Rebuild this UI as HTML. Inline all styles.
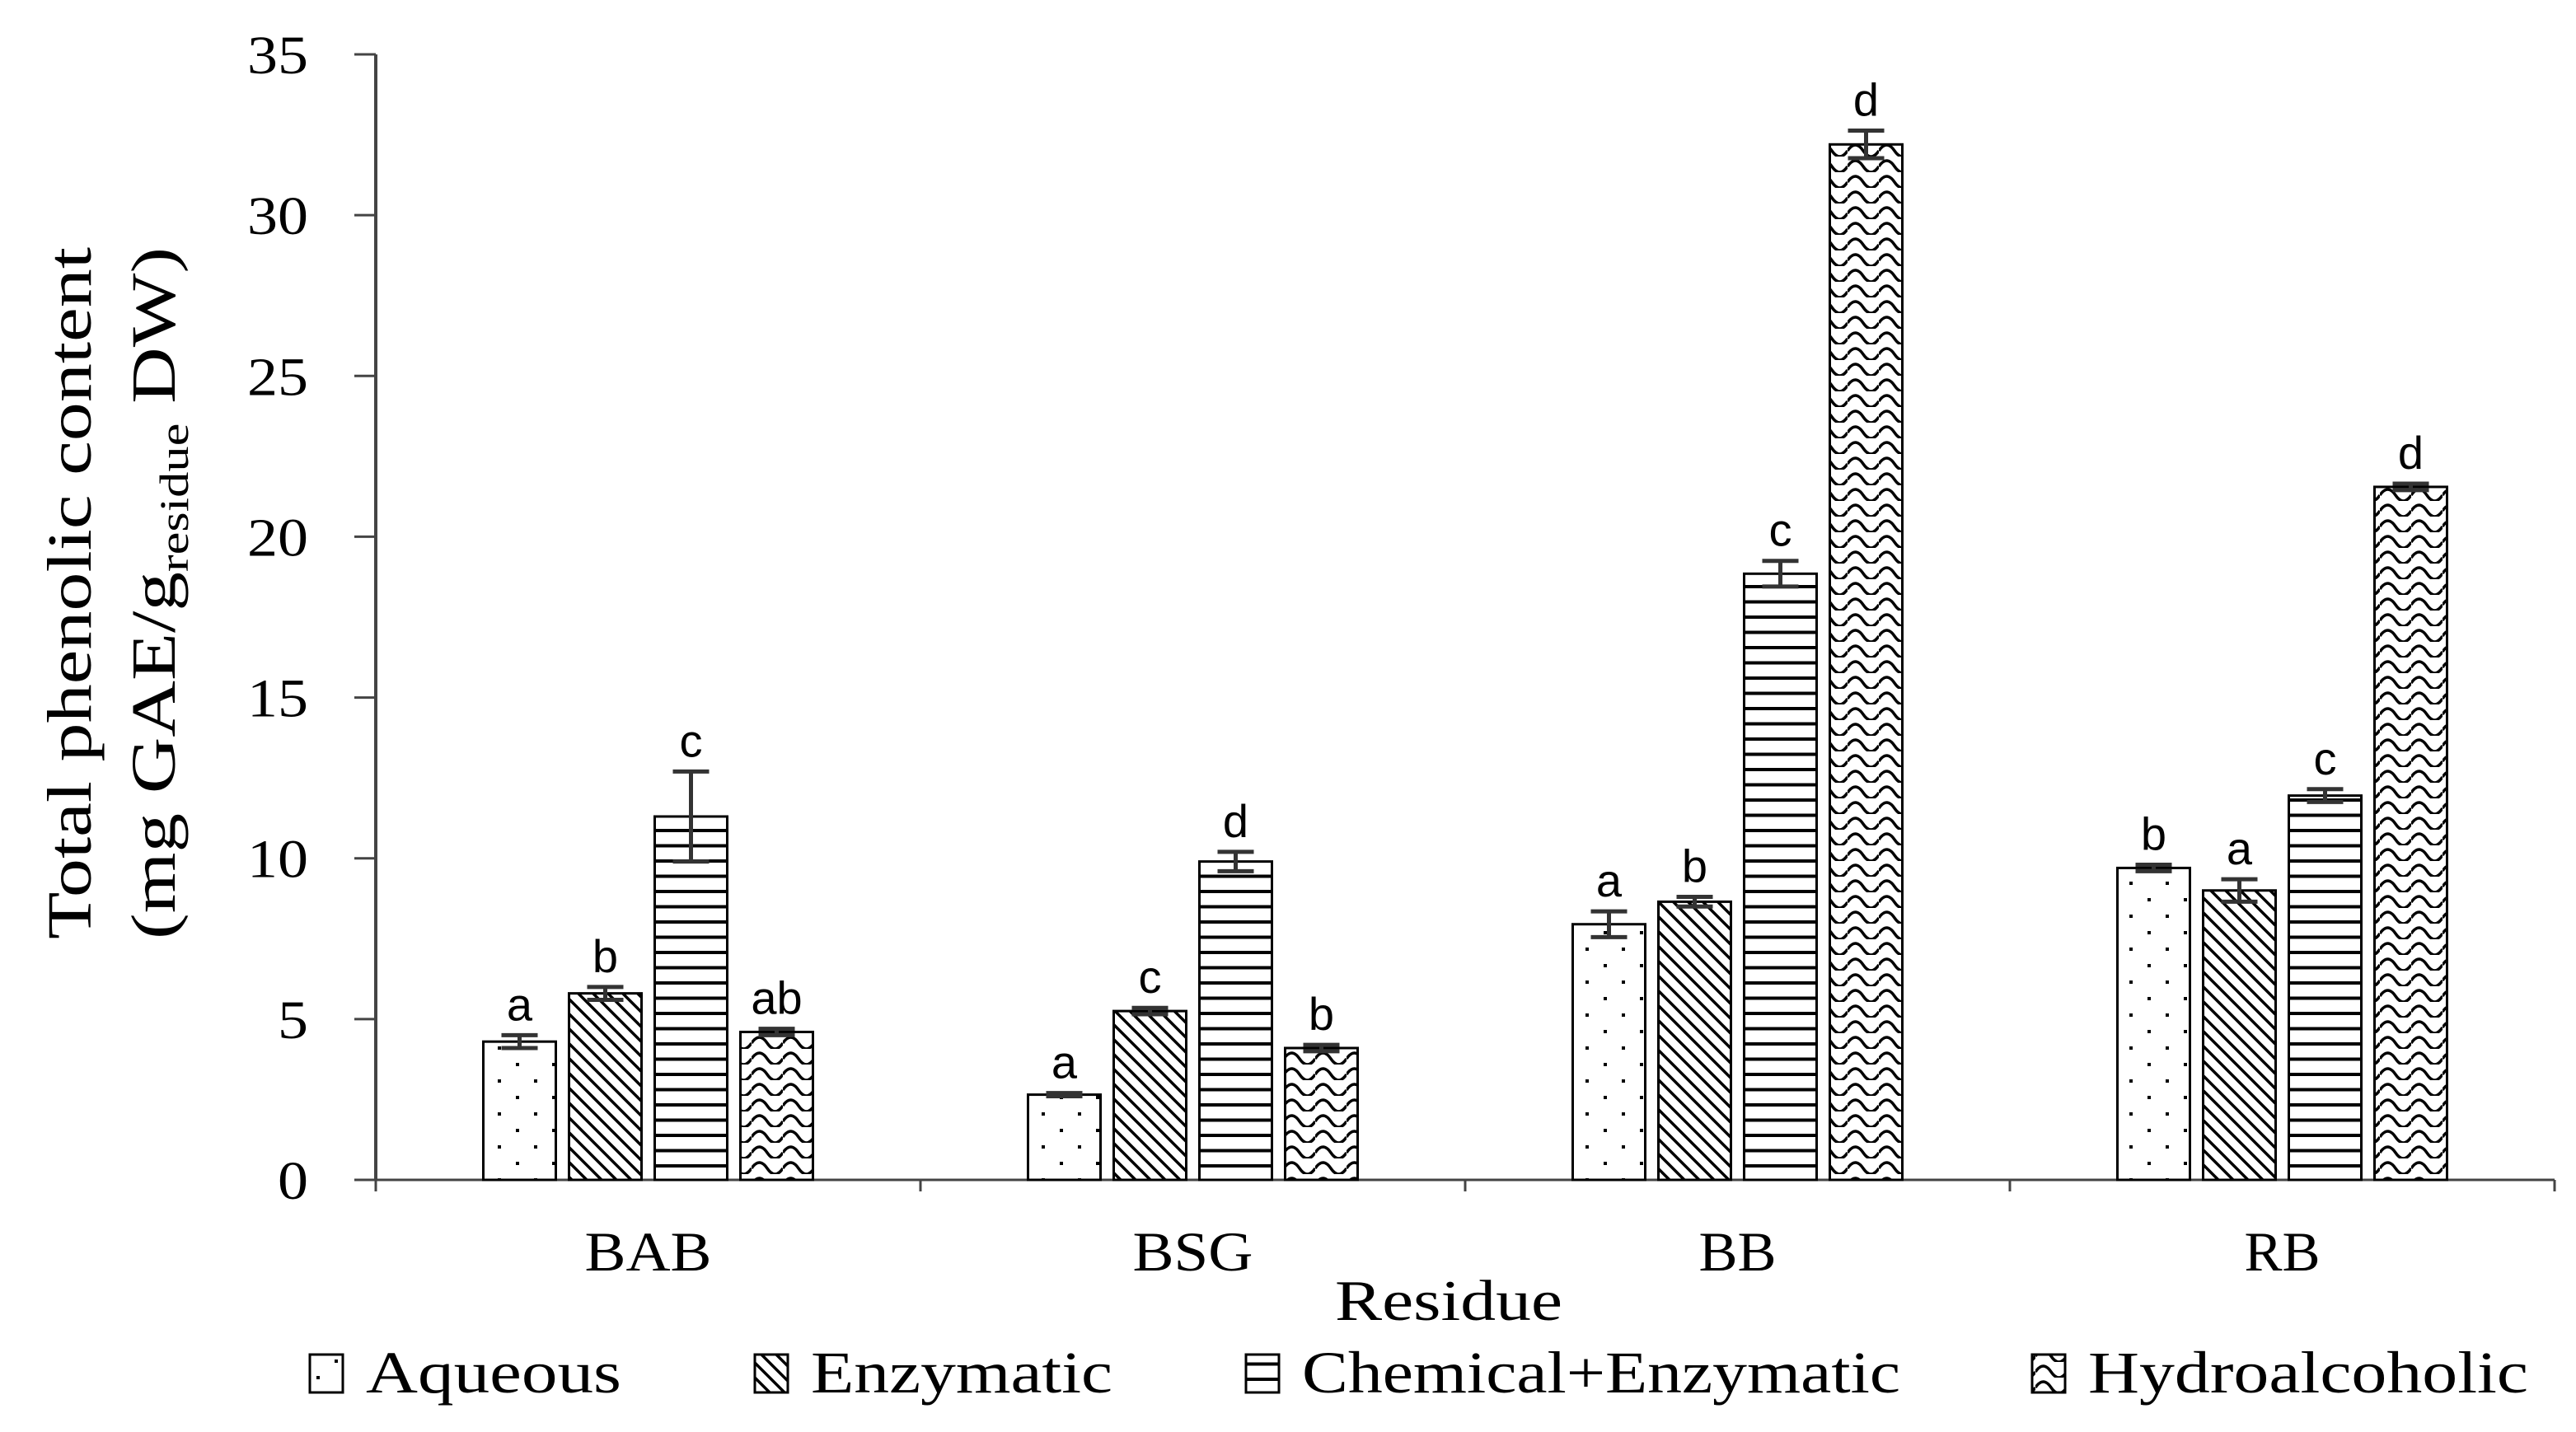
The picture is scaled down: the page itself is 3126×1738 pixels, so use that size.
<!DOCTYPE html>
<html><head><meta charset="utf-8">
<style>
html,body{margin:0;padding:0;background:#fff;}
svg{display:block;}
.serif{font-family:"Liberation Serif",serif;}
.sans{font-family:"Liberation Sans",sans-serif;}
</style></head>
<body>
<svg id="chart" width="3126" height="1738" viewBox="0 0 3126 1738" xmlns="http://www.w3.org/2000/svg">
<defs>
<pattern id="p-dots" width="44" height="40" patternUnits="userSpaceOnUse">
<rect width="44" height="40" fill="#fff"/><rect x="10" y="10" width="4" height="4" fill="#000"/><rect x="32" y="30" width="4" height="4" fill="#000"/>
</pattern>
<pattern id="p-diag" width="18" height="18" patternUnits="userSpaceOnUse">
<rect width="18" height="18" fill="#fff"/><path d="M-4.5,-4.5 L22.5,22.5 M-4.5,13.5 L4.5,22.5 M13.5,-4.5 L22.5,4.5" stroke="#000" stroke-width="3.5"/>
</pattern>
<pattern id="p-horiz" width="20" height="18.5" patternUnits="userSpaceOnUse">
<rect width="20" height="18.5" fill="#fff"/><rect y="7" width="20" height="4" fill="#000"/>
</pattern>
<pattern id="p-wave" width="38" height="19" patternUnits="userSpaceOnUse">
<rect width="38" height="19" fill="#fff"/><path d="M0,12 Q9.5,-2 19,12 T38,12" fill="none" stroke="#000" stroke-width="3.5"/>
</pattern>
</defs>
<g id="plot"></g>
<text class="serif" font-size="76" text-anchor="middle" transform="translate(110,720) rotate(-90)" textLength="840" lengthAdjust="spacingAndGlyphs">Total phenolic content</text>
<text class="serif" font-size="76" text-anchor="middle" transform="translate(212,720) rotate(-90)" textLength="840" lengthAdjust="spacingAndGlyphs">(mg GAE/g<tspan font-size="50" dy="16">residue</tspan><tspan dy="-16"> DW)</tspan></text>
</svg>
<script>
const categories = ["BAB","BSG","BB","RB"];
const seriesNames = ["Aqueous","Enzymatic","Chemical+Enzymatic","Hydroalcoholic"];
const aqueous = [4.3, 2.65, 7.95, 9.7];
const enzymatic = [5.8, 5.25, 8.65, 9.0];
const chemEnz = [11.3, 9.9, 18.85, 11.95];
const hydro = [4.6, 4.1, 32.2, 21.55];
const aqueousErr = [0.2, 0.05, 0.4, 0.1];
const enzymaticErr = [0.2, 0.1, 0.15, 0.35];
const chemEnzErr = [1.4, 0.3, 0.4, 0.2];
const hydroErr = [0.1, 0.1, 0.43, 0.1];
const aqueousLetters = ["a","a","a","b"];
const enzymaticLetters = ["b","c","b","a"];
const chemEnzLetters = ["c","d","c","c"];
const hydroLetters = ["ab","b","d","d"];
const yTicks = [0,5,10,15,20,25,30,35];

const NS = "http://www.w3.org/2000/svg";
const g = document.getElementById("plot");
const X0 = 456, X1 = 3100, Y0 = 1432, YTOP = 66, YMAX = 35;
const groupW = (X1 - X0) / categories.length;
const barW = 88, barStep = 104;
const y = v => Y0 - v / YMAX * (Y0 - YTOP);
const xCenter = i => X0 + groupW * (i + 0.5);
const xBar = (i, s) => xCenter(i) - 2 * barStep + (barStep - barW) / 2 + s * barStep;
function el(tag, attrs, parent) {
  const e = document.createElementNS(NS, tag);
  for (const k in attrs) e.setAttribute(k, attrs[k]);
  (parent || g).appendChild(e);
  return e;
}
const series = [aqueous, enzymatic, chemEnz, hydro];
const errs = [aqueousErr, enzymaticErr, chemEnzErr, hydroErr];
const letters = [aqueousLetters, enzymaticLetters, chemEnzLetters, hydroLetters];
const fills = ["url(#p-dots)","url(#p-diag)","url(#p-horiz)","url(#p-wave)"];

let a = el("line",{x1:X0,y1:YTOP,x2:X0,y2:Y0,stroke:"#444","stroke-width":4});


a = el("line",{x1:X0,y1:Y0,x2:X1,y2:Y0,stroke:"#444","stroke-width":3});


yTicks.forEach(t => {
  const tk = el("line",{x1:X0-26,y1:y(t),x2:X0,y2:y(t),stroke:"#444","stroke-width":3});
  
  
  const s = String(t);
  const tl = el("text",{x:374,y:y(t)+23,"text-anchor":"end","font-size":66,class:"serif",textLength:37*s.length,lengthAdjust:"spacingAndGlyphs"});
  tl.textContent = s;
  
  
});
for (let i = 0; i <= categories.length; i++) {
  const tk = el("line",{x1:X0+groupW*i,y1:Y0,x2:X0+groupW*i,y2:Y0+14,stroke:"#444","stroke-width":3});
  
  
}
const catWidth = {BAB:154,BSG:146,BB:94,RB:92};
categories.forEach((c, i) => {
  const t = el("text",{x:xCenter(i),y:1542,"text-anchor":"middle","font-size":68,class:"serif",textLength:catWidth[c]||(c.length*48),lengthAdjust:"spacingAndGlyphs"});
  t.textContent = c;
  
  
  series.forEach((s, k) => {
    const v = s[i], e = errs[k][i], bx = xBar(i, k);
    const r = el("rect",{x:bx,y:y(v),width:barW,height:Y0-y(v),fill:fills[k],stroke:"#000","stroke-width":3});
    
    
    const cx = bx + barW/2;
    const eb = el("path",{d:`M${cx},${y(v+e)} L${cx},${y(v-e)} M${cx-22},${y(v+e)} L${cx+22},${y(v+e)} M${cx-22},${y(v-e)} L${cx+22},${y(v-e)}`,stroke:"#333","stroke-width":5,fill:"none"});
    
    
    const lt = el("text",{x:cx,y:y(v+e)-18,"text-anchor":"middle","font-size":56,class:"sans"});
    lt.textContent = letters[k][i];
    
    
  });
});
const xt = el("text",{x:1758,y:1602,"text-anchor":"middle","font-size":70,class:"serif",textLength:276,lengthAdjust:"spacingAndGlyphs"});
xt.textContent = "Residue";



const legX = [376, 916, 1512, 2466];
const legW = [310, 366, 726, 534];
seriesNames.forEach((n, k) => {
  const b = el("rect",{x:legX[k],y:1644,width:40,height:46,fill:fills[k],stroke:"#000","stroke-width":3});
  
  
  const t = el("text",{x:legX[k]+68,y:1690,"font-size":72,class:"serif",textLength:legW[k],lengthAdjust:"spacingAndGlyphs"});
  t.textContent = n;
  
  
});
</script>
</body></html>
